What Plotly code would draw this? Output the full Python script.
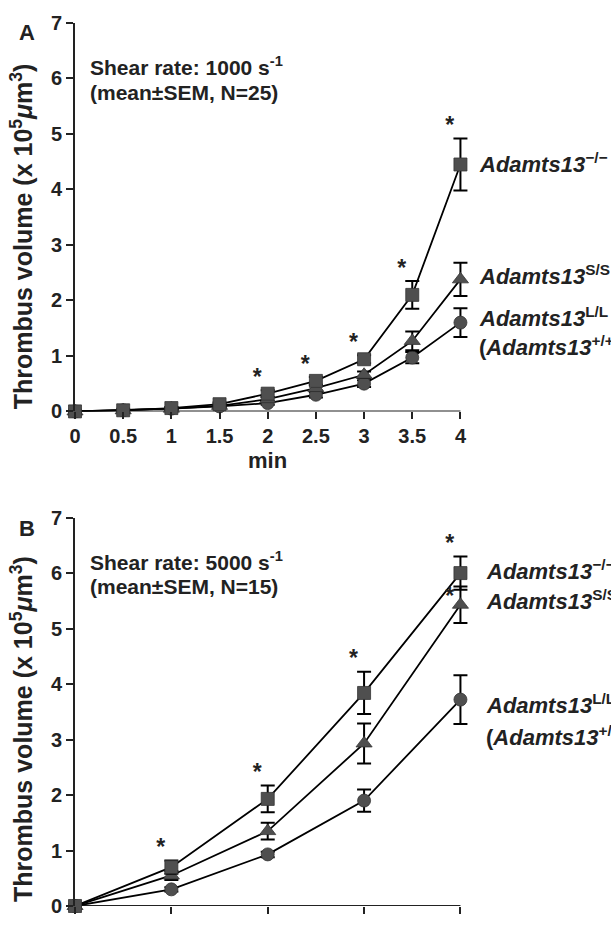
import plotly.graph_objects as go

# ---------------- data ----------------
t_a = [0, 0.5, 1, 1.5, 2, 2.5, 3, 3.5, 4]
a_ko = [0, 0.02, 0.06, 0.13, 0.32, 0.55, 0.94, 2.10, 4.45]
a_ko_err = [0, 0.01, 0.02, 0.03, 0.06, 0.07, 0.07, 0.25, 0.47]
a_ss = [0, 0.02, 0.05, 0.10, 0.22, 0.42, 0.66, 1.27, 2.38]
a_ss_err = [0, 0.01, 0.02, 0.03, 0.04, 0.05, 0.06, 0.17, 0.30]
a_ll = [0, 0.02, 0.05, 0.09, 0.15, 0.30, 0.50, 0.97, 1.60]
a_ll_err = [0, 0.01, 0.01, 0.02, 0.03, 0.05, 0.06, 0.10, 0.26]
a_star_idx = [4, 5, 6, 7, 8]

t_b = [0, 1, 2, 3, 4]
b_ko = [0, 0.70, 1.93, 3.84, 6.00]
b_ko_err = [0, 0.12, 0.24, 0.38, 0.30]
b_ss = [0, 0.55, 1.35, 2.93, 5.43]
b_ss_err = [0, 0.08, 0.15, 0.36, 0.33]
b_ll = [0, 0.30, 0.93, 1.90, 3.72]
b_ll_err = [0, 0.04, 0.05, 0.20, 0.44]
b_star_idx = [1, 2, 3, 4]
b_ss_star_idx = [4]

a_ticks = [0, 0.5, 1, 1.5, 2, 2.5, 3, 3.5, 4]
a_ticktext = ["0", "0.5", "1", "1.5", "2", "2.5", "3", "3.5", "4"]
b_ticks = [0, 1, 2, 3, 4]
y_ticks = [0, 1, 2, 3, 4, 5, 6, 7]
x_end = 4
y_max = 7

labels = ["<i>Adamts13</i><sup>−/−</sup>", "<i>Adamts13</i><sup>S/S</sup>",
          "<i>Adamts13</i><sup>L/L</sup>", "(<i>Adamts13</i><sup>+/+</sup>)"]
a_label_y = [4.47, 2.45, 1.70, 1.17]
b_label_y = [6.06, 5.52, 3.64, 3.07]

# ---------------- style ----------------
W, H = 611, 929
XMAX = 4.12                     # a little room so the last error-bar caps are not clipped
AXIS_PX = 385                   # pixel length of 0..4
ML, MT, MB = 75, 16, 15
PW = AXIS_PX * XMAX / 4
MR = W - ML - PW
PH = H - MT - MB
FONT = "Liberation Sans, Arial, Helvetica, sans-serif"
MCOL = "#4f4f4f"
INK = "#222222"


def px(x):
    return (x - ML) / PW


def py(y):
    return (H - MB - y) / PH


A_DOM = [py(411), 1.0]
B_DOM = [0.0, py(519)]


def ypaper(v, dom):
    return dom[0] + v / y_max * (dom[1] - dom[0])


fig = go.Figure()


def add_series(xs, ys, errs, symbol, size, xa, ya):
    fig.add_trace(go.Scatter(
        x=xs, y=ys, mode="lines+markers",
        line=dict(color="black", width=1.8),
        marker=dict(symbol=symbol, size=size, color=MCOL,
                    line=dict(color="#333333", width=0.8)),
        error_y=dict(type="data", array=errs, color="black",
                     thickness=2, width=7),
        cliponaxis=False, showlegend=False, xaxis=xa, yaxis=ya))


add_series(t_a, a_ll, a_ll_err, "circle", 13, "x", "y")
add_series(t_a, a_ss, a_ss_err, "triangle-up", 14, "x", "y")
add_series(t_a, a_ko, a_ko_err, "square", 13, "x", "y")
add_series(t_b, b_ll, b_ll_err, "circle", 13, "x2", "y2")
add_series(t_b, b_ss, b_ss_err, "triangle-up", 14, "x2", "y2")
add_series(t_b, b_ko, b_ko_err, "square", 13, "x2", "y2")

STAR_DX = -0.11
STAR_DY = 0.2
star_font = dict(family=FONT, size=23, color=INK)
fig.add_trace(go.Scatter(
    x=[t_a[i] + STAR_DX for i in a_star_idx],
    y=[a_ko[i] + a_ko_err[i] + STAR_DY for i in a_star_idx],
    mode="text", text=["*"] * len(a_star_idx), textfont=star_font,
    cliponaxis=False, showlegend=False, xaxis="x", yaxis="y"))
fig.add_trace(go.Scatter(
    x=[t_b[i] + STAR_DX for i in b_star_idx] + [t_b[i] + STAR_DX for i in b_ss_star_idx],
    y=[b_ko[i] + b_ko_err[i] + STAR_DY for i in b_star_idx]
      + [b_ss[i] + 0.12 for i in b_ss_star_idx],
    mode="text", text=["*"] * (len(b_star_idx) + len(b_ss_star_idx)),
    textfont=star_font, cliponaxis=False, showlegend=False,
    xaxis="x2", yaxis="y2"))

tickfont = dict(family=FONT, size=20, color=INK, weight="bold")
tick_common = dict(ticks="outside", ticklen=7, tickwidth=2, tickcolor=INK,
                   showgrid=False, zeroline=False, tickfont=tickfont)

fig.update_layout(
    width=W, height=H,
    margin=dict(l=ML, r=MR, t=MT, b=MB, pad=0),
    plot_bgcolor="white", paper_bgcolor="white",
    font=dict(family=FONT, color=INK, weight="bold"),
    xaxis=dict(domain=[0, 1], range=[0, XMAX], anchor="y", showline=False,
               tickvals=a_ticks, ticktext=a_ticktext, **tick_common),
    yaxis=dict(domain=A_DOM, range=[0, y_max], anchor="x", showline=True,
               linecolor=INK, linewidth=2, tickvals=y_ticks, **tick_common),
    xaxis2=dict(domain=[0, 1], range=[0, XMAX], anchor="y2", showline=False,
                tickvals=b_ticks, showticklabels=False, **tick_common),
    yaxis2=dict(domain=B_DOM, range=[0, y_max], anchor="x2", showline=True,
                linecolor=INK, linewidth=2, tickvals=y_ticks, **tick_common),
)

# x-axis lines that stop at the last tick (as in the reference)
for xr, yr in [("x", "y"), ("x2", "y2")]:
    fig.add_shape(type="line", xref=xr, yref=yr, x0=0, x1=x_end, y0=0, y1=0,
                  line=dict(color=INK, width=2), layer="below")

ann = []
txt = dict(family=FONT, size=21, color=INK, weight="bold")
ytitle = "Thrombus volume (x 10<sup>5</sup><i>μ</i>m<sup>3</sup>)"
for letter, ly, s1, s2, sy1, sy2, ty in [
        ("A", 26, "Shear rate: 1000 s<sup>-1</sup>", "(mean±SEM, N=25)", 60, 87, 233),
        ("B", 530, "Shear rate: 5000 s<sup>-1</sup>", "(mean±SEM, N=15)", 563, 589, 734)]:
    ann.append(dict(text=letter, x=px(27), y=py(ly), xref="paper", yref="paper",
                    showarrow=False, xanchor="center", yanchor="middle",
                    font=dict(family=FONT, size=22, color=INK, weight="bold")))
    ann.append(dict(text=s1, x=px(88), y=py(sy1), xref="paper", yref="paper",
                    showarrow=False, xanchor="left", yanchor="middle", font=txt))
    ann.append(dict(text=s2, x=px(88), y=py(sy2), xref="paper", yref="paper",
                    showarrow=False, xanchor="left", yanchor="middle", font=txt))
    ann.append(dict(text=ytitle, x=px(22), y=py(ty), xref="paper", yref="paper",
                    showarrow=False, xanchor="center", yanchor="middle",
                    textangle=-90,
                    font=dict(family=FONT, size=25, color=INK, weight="bold")))

ann.append(dict(text="min", x=px(267), y=py(461), xref="paper", yref="paper",
                showarrow=False, xanchor="center", yanchor="middle",
                font=dict(family=FONT, size=22, color=INK, weight="bold")))

lab_font = dict(family=FONT, size=22, color=INK, weight="bold")
for lab, yy in zip(labels, a_label_y):
    ann.append(dict(text=lab, x=px(477), y=ypaper(yy, A_DOM), xref="paper", yref="paper",
                    showarrow=False, xanchor="left", yanchor="middle", font=lab_font))
for lab, yy in zip(labels, b_label_y):
    ann.append(dict(text=lab, x=px(484), y=ypaper(yy, B_DOM), xref="paper", yref="paper",
                    showarrow=False, xanchor="left", yanchor="middle", font=lab_font))

fig.update_layout(annotations=ann)

fig.write_html("out.html", config={"displayModeBar": False},
               post_script="document.body.style.margin='0px';")
